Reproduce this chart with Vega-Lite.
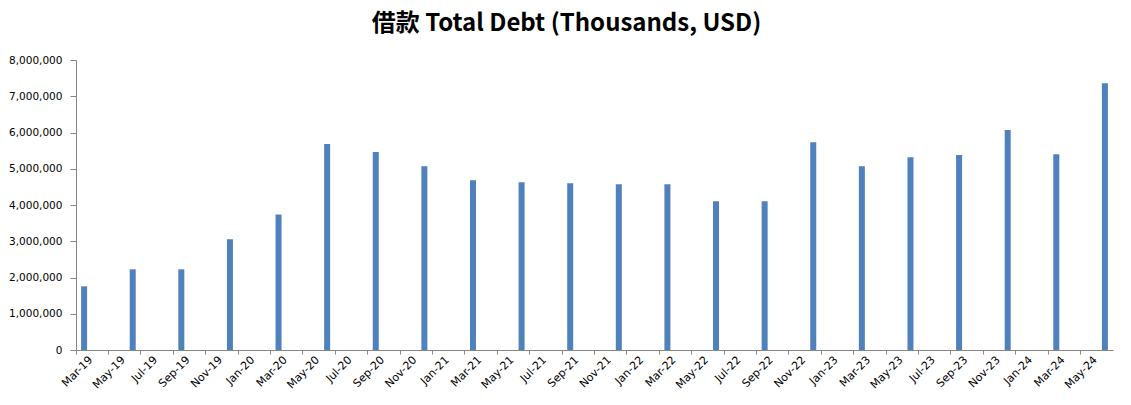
{
  "$schema": "https://vega.github.io/schema/vega-lite/v6.json",
  "width": 1037,
  "height": 290,
  "autosize": {"type": "none"},
  "padding": {"left": 76, "top": 60, "right": 18, "bottom": 55},
  "background": "white",
  "title": {
    "text": "借款 Total Debt (Thousands, USD)",
    "font": "Liberation Sans Narrow, Noto Sans CJK SC",
    "fontSize": 24,
    "fontWeight": "bold",
    "color": "#000000",
    "anchor": "middle",
    "dx": -28,
    "offset": 19
  },
  "data": {
    "values": [
      {"month": "Mar-19", "debt": 1757000},
      {"month": "Jun-19", "debt": 2226000},
      {"month": "Sep-19", "debt": 2226000},
      {"month": "Dec-19", "debt": 3055000},
      {"month": "Mar-20", "debt": 3740000},
      {"month": "Jun-20", "debt": 5680000},
      {"month": "Sep-20", "debt": 5460000},
      {"month": "Dec-20", "debt": 5070000},
      {"month": "Mar-21", "debt": 4685000},
      {"month": "Jun-21", "debt": 4630000},
      {"month": "Sep-21", "debt": 4600000},
      {"month": "Dec-21", "debt": 4575000},
      {"month": "Mar-22", "debt": 4575000},
      {"month": "Jun-22", "debt": 4105000},
      {"month": "Sep-22", "debt": 4105000},
      {"month": "Dec-22", "debt": 5730000},
      {"month": "Mar-23", "debt": 5070000},
      {"month": "Jun-23", "debt": 5320000},
      {"month": "Sep-23", "debt": 5380000},
      {"month": "Dec-23", "debt": 6070000},
      {"month": "Mar-24", "debt": 5400000},
      {"month": "Jun-24", "debt": 7360000}
    ]
  },
  "mark": {"type": "bar", "color": "#4F81BD", "size": 6},
  "encoding": {
    "x": {
      "field": "month",
      "type": "ordinal",
      "sort": null,
      "scale": {
        "domain": ["Mar-19","Apr-19","May-19","Jun-19","Jul-19","Aug-19","Sep-19","Oct-19","Nov-19","Dec-19",
                   "Jan-20","Feb-20","Mar-20","Apr-20","May-20","Jun-20","Jul-20","Aug-20","Sep-20","Oct-20","Nov-20","Dec-20",
                   "Jan-21","Feb-21","Mar-21","Apr-21","May-21","Jun-21","Jul-21","Aug-21","Sep-21","Oct-21","Nov-21","Dec-21",
                   "Jan-22","Feb-22","Mar-22","Apr-22","May-22","Jun-22","Jul-22","Aug-22","Sep-22","Oct-22","Nov-22","Dec-22",
                   "Jan-23","Feb-23","Mar-23","Apr-23","May-23","Jun-23","Jul-23","Aug-23","Sep-23","Oct-23","Nov-23","Dec-23",
                   "Jan-24","Feb-24","Mar-24","Apr-24","May-24","Jun-24"],
        "paddingInner": 0,
        "paddingOuter": 0
      },
      "axis": {
        "title": null,
        "values": ["Mar-19","May-19","Jul-19","Sep-19","Nov-19","Jan-20","Mar-20","May-20","Jul-20","Sep-20","Nov-20",
                   "Jan-21","Mar-21","May-21","Jul-21","Sep-21","Nov-21","Jan-22","Mar-22","May-22","Jul-22","Sep-22","Nov-22",
                   "Jan-23","Mar-23","May-23","Jul-23","Sep-23","Nov-23","Jan-24","Mar-24","May-24"],
        "bandPosition": 0,
        "labelOffset": 7,
        "labelAngle": -45,
        "labelAlign": "right",
        "labelBaseline": "middle",
        "labelFont": "DejaVu Sans",
        "labelFontSize": 11,
        "labelColor": "#000000",
        "labelPadding": 4,
        "labelOverlap": false,
        "labelBound": false,
        "tickSize": 4,
        "tickColor": "#868686",
        "domainColor": "#868686",
        "grid": false
      }
    },
    "y": {
      "field": "debt",
      "type": "quantitative",
      "scale": {"domain": [0, 8000000], "nice": false},
      "axis": {
        "title": null,
        "values": [0, 1000000, 2000000, 3000000, 4000000, 5000000, 6000000, 7000000, 8000000],
        "format": ",d",
        "labelFont": "DejaVu Sans",
        "labelFontSize": 10.5,
        "labelColor": "#000000",
        "labelPadding": 8,
        "tickSize": 6,
        "tickColor": "#868686",
        "domainColor": "#868686",
        "grid": false
      }
    }
  },
  "config": {
    "view": {"stroke": null}
  }
}
